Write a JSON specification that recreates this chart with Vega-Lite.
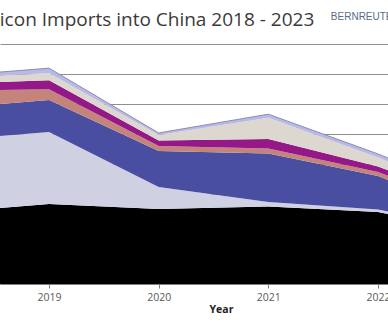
{
  "$schema": "https://vega.github.io/schema/vega-lite/v6.json",
  "width": 388,
  "height": 240,
  "autosize": {"type": "none"},
  "padding": {"top": 44, "left": 0, "right": 0, "bottom": 40},
  "background": "white",
  "config": {"view": {"stroke": null}, "font": "Open Sans"},
  "title": {
    "text": "Polysilicon Imports into China 2018 - 2023",
    "anchor": "start",
    "dx": -56,
    "offset": -18,
    "fontSize": 19,
    "fontWeight": "normal",
    "font": "Open Sans",
    "color": "#3a3a3a"
  },
  "datasets": {
    "imports": [
      {"year": 2018, "src": "Germany", "k": 1, "v": 47300},
      {"year": 2018, "src": "South Korea", "k": 2, "v": 48000},
      {"year": 2018, "src": "Malaysia", "k": 3, "v": 21300},
      {"year": 2018, "src": "Taiwan", "k": 4, "v": 11900},
      {"year": 2018, "src": "USA", "k": 5, "v": 4500},
      {"year": 2018, "src": "Japan", "k": 6, "v": 3200},
      {"year": 2018, "src": "Others", "k": 7, "v": 1800},
      {"year": 2019, "src": "Germany", "k": 1, "v": 53300},
      {"year": 2019, "src": "South Korea", "k": 2, "v": 48000},
      {"year": 2019, "src": "Malaysia", "k": 3, "v": 21300},
      {"year": 2019, "src": "Taiwan", "k": 4, "v": 7300},
      {"year": 2019, "src": "USA", "k": 5, "v": 6000},
      {"year": 2019, "src": "Japan", "k": 6, "v": 4700},
      {"year": 2019, "src": "Others", "k": 7, "v": 3300},
      {"year": 2020, "src": "Germany", "k": 1, "v": 50000},
      {"year": 2020, "src": "South Korea", "k": 2, "v": 14700},
      {"year": 2020, "src": "Malaysia", "k": 3, "v": 24000},
      {"year": 2020, "src": "Taiwan", "k": 4, "v": 3300},
      {"year": 2020, "src": "USA", "k": 5, "v": 3700},
      {"year": 2020, "src": "Japan", "k": 6, "v": 3700},
      {"year": 2020, "src": "Others", "k": 7, "v": 1300},
      {"year": 2021, "src": "Germany", "k": 1, "v": 51700},
      {"year": 2021, "src": "South Korea", "k": 2, "v": 3000},
      {"year": 2021, "src": "Malaysia", "k": 3, "v": 32300},
      {"year": 2021, "src": "Taiwan", "k": 4, "v": 3300},
      {"year": 2021, "src": "USA", "k": 5, "v": 6300},
      {"year": 2021, "src": "Japan", "k": 6, "v": 14300},
      {"year": 2021, "src": "Others", "k": 7, "v": 2300},
      {"year": 2022, "src": "Germany", "k": 1, "v": 48000},
      {"year": 2022, "src": "South Korea", "k": 2, "v": 1700},
      {"year": 2022, "src": "Malaysia", "k": 3, "v": 22300},
      {"year": 2022, "src": "Taiwan", "k": 4, "v": 2700},
      {"year": 2022, "src": "USA", "k": 5, "v": 3700},
      {"year": 2022, "src": "Japan", "k": 6, "v": 6000},
      {"year": 2022, "src": "Others", "k": 7, "v": 2300},
      {"year": 2023, "src": "Germany", "k": 1, "v": 33300},
      {"year": 2023, "src": "South Korea", "k": 2, "v": 700},
      {"year": 2023, "src": "Malaysia", "k": 3, "v": 9300},
      {"year": 2023, "src": "Taiwan", "k": 4, "v": 2700},
      {"year": 2023, "src": "USA", "k": 5, "v": 3300},
      {"year": 2023, "src": "Japan", "k": 6, "v": 5300},
      {"year": 2023, "src": "Others", "k": 7, "v": 2700}
    ]
  },
  "layer": [
    {
      "data": {"name": "imports"},
      "mark": {"type": "area", "clip": true, "interpolate": "linear"},
      "encoding": {
        "x": {
          "field": "year",
          "type": "quantitative",
          "scale": {"domain": [2018.553, 2022.091], "nice": false, "zero": false},
          "axis": {
            "values": [2019, 2020, 2021, 2022],
            "format": "d",
            "title": "Year",
            "grid": false,
            "tickSize": 4,
            "tickColor": "#808080",
            "domainColor": "#808080",
            "labelFont": "Open Sans",
            "labelFontSize": 10.5,
            "labelColor": "#595959",
            "labelPadding": 4,
            "labelFlush": false,
            "titleFont": "Open Sans",
            "titleFontSize": 10.5,
            "titleFontWeight": "bold",
            "titleColor": "#222222",
            "titlePadding": 2,
            "titleX": 221
          }
        },
        "y": {
          "field": "v",
          "type": "quantitative",
          "stack": "zero",
          "scale": {"domain": [0, 160000], "nice": false},
          "axis": {
            "tickCount": 8,
            "labels": false,
            "ticks": false,
            "domain": false,
            "title": null,
            "gridColor": "#8f8f8f",
            "gridWidth": 1,
            "gridOpacity": 1
          }
        },
        "order": {"field": "k", "type": "quantitative", "sort": "ascending"},
        "color": {
          "field": "src",
          "type": "nominal",
          "scale": {
            "domain": ["Germany", "South Korea", "Malaysia", "Taiwan", "USA", "Japan", "Others"],
            "range": ["#000000", "#cfd1e3", "#4a4ea0", "#c4847c", "#951888", "#dcd8cf", "#b9b9e6"]
          },
          "legend": null
        },
        "opacity": {"value": 1}
      }
    },
    {
      "data": {"name": "imports"},
      "transform": [{"aggregate": [{"op": "sum", "field": "v", "as": "total"}], "groupby": ["year"]}],
      "mark": {"type": "line", "clip": true, "color": "#8a8ab4", "strokeWidth": 1},
      "encoding": {
        "x": {"field": "year", "type": "quantitative"},
        "y": {"field": "total", "type": "quantitative"}
      }
    },
    {
      "data": {"values": [{"logo": "BERNREUTER"}]},
      "mark": {
        "type": "text",
        "align": "left",
        "baseline": "alphabetic",
        "font": "Liberation Sans",
        "fontSize": 10,
        "color": "#5b6b85",
        "clip": false
      },
      "encoding": {
        "x": {"datum": 2021.57, "type": "quantitative"},
        "y": {"datum": 175700, "type": "quantitative"},
        "text": {"field": "logo"}
      }
    }
  ]
}
